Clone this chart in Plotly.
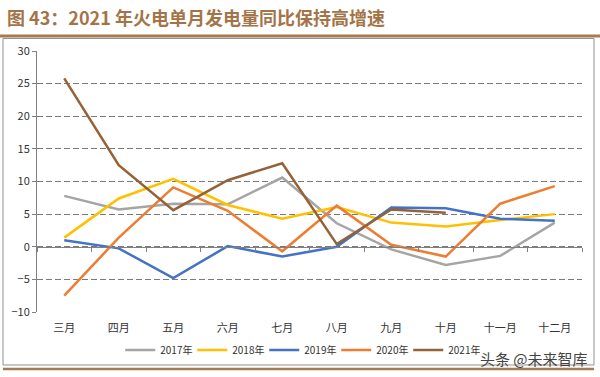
import plotly.graph_objects as go

months = ["三月", "四月", "五月", "六月", "七月", "八月", "九月", "十月", "十一月", "十二月"]
y2017 = [7.8, 5.7, 6.6, 6.5, 10.6, 3.6, -0.4, -2.8, -1.4, 3.7]
y2018 = [1.4, 7.4, 10.4, 6.4, 4.3, 6.1, 3.7, 3.1, 4.1, 5.0]
y2019 = [1.0, -0.25, -4.8, 0.1, -1.5, 0.0, 6.0, 5.9, 4.3, 4.0]
y2020 = [-7.5, 1.4, 9.1, 5.5, -0.7, 6.3, 0.3, -1.5, 6.6, 9.3]
y2021 = [25.8, 12.5, 5.6, 10.2, 12.8, 0.4, 5.7, 5.2]
series_names = ["2017年", "2018年", "2019年", "2020年", "2021年"]
y_ticks = [-10, -5, 0, 5, 10, 15, 20, 25, 30]

colors = ["#A5A5A5", "#FFC000", "#4472C4", "#ED7D31", "#946236"]
data = [y2017, y2018, y2019, y2020, y2021]

fig = go.Figure()
for name, vals, c in zip(series_names, data, colors):
    fig.add_trace(go.Scatter(x=months[:len(vals)], y=vals, mode="lines", name=name,
                             line=dict(color=c, width=2.5)))

# invisible trace to carry the zero-axis (x2)
fig.add_trace(go.Scatter(x=months, y=[0] * len(months), xaxis="x2", mode="lines",
                         line=dict(width=0, color="rgba(0,0,0,0)"), showlegend=False,
                         hoverinfo="skip"))

font_cjk = "Noto Sans CJK SC, Liberation Sans, sans-serif"

fig.update_layout(
    width=600, height=377,
    margin=dict(l=37, r=18, t=51, b=65, autoexpand=False),
    paper_bgcolor="white", plot_bgcolor="white",
    font=dict(family=font_cjk, size=11, color="#333333"),
    showlegend=True,
    legend=dict(orientation="h", x=0.483, xanchor="center", y=-0.146, yanchor="middle",
                font=dict(size=10, color="#333333"), itemwidth=30, tracegroupgap=0,
                entrywidth=27, entrywidthmode="pixels",
                bgcolor="rgba(0,0,0,0)"),
    xaxis=dict(type="category", categoryorder="array", categoryarray=months,
               range=[-0.5, 9.5], showgrid=False, showline=False, ticks="",
               zeroline=False, tickfont=dict(size=11, color="#333333"),
               ticklabelstandoff=8),
    xaxis2=dict(type="category", categoryorder="array", categoryarray=months,
                range=[-0.5, 9.5], overlaying="x", anchor="free", position=0.25,
                showgrid=False, showline=True, linecolor="#808080", linewidth=1,
                ticks="outside", tickson="boundaries", ticklen=4, tickcolor="#808080",
                showticklabels=False, zeroline=False),
    yaxis=dict(range=[-10, 30], tickvals=y_ticks, showgrid=True, gridcolor="#7a7a7a",
               griddash="6px,3px", gridwidth=1.3, zeroline=False, showline=True,
               linecolor="#808080", linewidth=1, ticks="outside", ticklen=4,
               tickcolor="#808080", tickfont=dict(size=11, color="#333333")),
    shapes=[
        dict(type="rect", xref="paper", yref="paper", x0=-0.0624, x1=1.022, y0=-0.203, y1=1.048,
             line=dict(color="#909090", width=1)),
        dict(type="line", xref="paper", yref="paper", x0=-0.068, x1=1.033, y0=1.057, y1=1.057,
             line=dict(color="#A67A52", width=3)),
        dict(type="line", xref="paper", yref="paper", x0=-0.0624, x1=1.022, y0=-0.218, y1=-0.218,
             line=dict(color="#A67A52", width=2.5)),
    ],
    annotations=[
        dict(text="<b>图 43：2021 年火电单月发电量同比保持高增速</b>", xref="paper", yref="paper",
             x=-0.0587, y=1.13, xanchor="left", yanchor="middle", showarrow=False,
             font=dict(size=18, color="#A47449", family=font_cjk)),
        dict(text="头条 @未来智库", xref="paper", yref="paper", x=1.0147, y=-0.178,
             xanchor="right", yanchor="middle", showarrow=False,
             font=dict(size=15, color="#444444", family=font_cjk)),
    ],
)

fig.write_html("out.html", config={"displayModeBar": False},
               post_script="document.body.style.margin='0';")
